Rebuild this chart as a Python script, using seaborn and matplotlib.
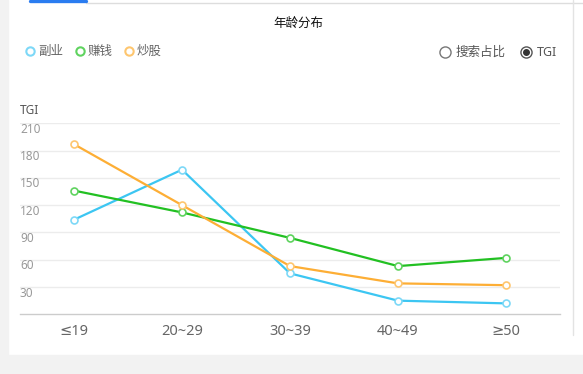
import matplotlib
matplotlib.use("Agg")
import matplotlib.pyplot as plt
import matplotlib.transforms as mtransforms
from matplotlib.lines import Line2D
from matplotlib.patches import Rectangle
import seaborn as sns
import pandas as pd

categories = ["≤19", "20~29", "30~39", "40~49", "≥50"]
series_names = ["副业", "赚钱", "炒股"]
fuye = [104, 159, 45, 15, 12]
zhuanqian = [136, 112, 84, 53, 62]
chaogu = [187, 120, 53, 34, 32]
yticks = [30, 60, 90, 120, 150, 180, 210]
colors = ["#3cc6f2", "#22c022", "#fdae35"]
marker_edges = ["#7dd8f7", "#5fd35f", "#fec66f"]

sns.set_theme(style="white")
plt.rcParams["font.family"] = ["Noto Sans CJK SC", "DejaVu Sans"]

rows = []
for name, vals in zip(series_names, [fuye, zhuanqian, chaogu]):
    for c, v in zip(categories, vals):
        rows.append({"age": c, "series": name, "TGI": v})
df = pd.DataFrame(rows)

W, H = 583, 374
fig = plt.figure(figsize=(W / 100, H / 100), dpi=100)
fig.patch.set_facecolor("white")

def fx(px):
    return px / W

def fy(py):
    return 1 - py / H

# page frame decorations
fig.add_artist(Rectangle((0, 0), fx(8), 1, transform=fig.transFigure, color="#f2f2f2", zorder=0))
fig.add_artist(Rectangle((0, 0), 1, fy(355), transform=fig.transFigure, color="#f2f2f2", zorder=0))
fig.add_artist(Line2D([fx(86), 1], [fy(2.5), fy(2.5)], transform=fig.transFigure, color="#dddddd", lw=1))
fig.add_artist(Line2D([fx(30), fx(86)], [fy(1.2), fy(1.2)], transform=fig.transFigure, color="#2a7cf0", lw=2.4))
fig.add_artist(Line2D([fx(572.5), fx(572.5)], [fy(0), fy(335)], transform=fig.transFigure, color="#e3e3e3", lw=1))

ax = fig.add_axes([fx(20), fy(314.3), fx(560) - fx(20), fy(123.3) - fy(314.3)])
ax.set_facecolor("none")

sns.lineplot(data=df, x="age", y="TGI", hue="series", palette=colors, sort=False,
             linewidth=1.6, legend=False, ax=ax)
for i, (name, vals) in enumerate(zip(series_names, [fuye, zhuanqian, chaogu])):
    ax.plot(categories, vals, linestyle="none", marker="o", markersize=5,
            markerfacecolor="white", markeredgecolor=marker_edges[i], markeredgewidth=1.2, zorder=5)

ax.set_xlim(-0.5, 4.5)
ax.set_ylim(0, 210)
ax.set_yticks(yticks)
ax.set_yticklabels([])
ax.tick_params(axis="y", length=0)
ax.yaxis.grid(True, color="#ececec", lw=1)
ax.set_axisbelow(True)
for s in ["top", "right", "left"]:
    ax.spines[s].set_visible(False)
ax.spines["bottom"].set_color("#cccccc")
ax.spines["bottom"].set_linewidth(1)
ax.tick_params(axis="x", length=0, pad=7, labelsize=10.5, labelcolor="#666666")
for lab in ax.get_xticklabels():
    lab.set_family(["Noto Sans", "DejaVu Sans"])
ax.set_xlabel("")
ax.set_ylabel("")

off = mtransforms.offset_copy(ax.get_yaxis_transform(), fig=fig, x=0, y=-6, units="dots")
for t in yticks:
    ax.text(0, t, str(t), transform=off, ha="left", va="center", fontsize=8.5, color="#999999",
            family=["Noto Sans", "DejaVu Sans"])

fig.text(fx(20), fy(110), "TGI", ha="left", va="center", fontsize=8.5, color="#555555",
         family=["Noto Sans", "DejaVu Sans"])

# title
fig.text(fx(298), fy(23), "年龄分布", ha="center", va="center", fontsize=9, color="#111111")

# legend
leg_x = [30, 80, 129]
for i, name in enumerate(series_names):
    fig.add_artist(Line2D([fx(leg_x[i])], [fy(51)], transform=fig.transFigure, marker="o",
                          markersize=6, markerfacecolor="white", markeredgecolor=marker_edges[i],
                          markeredgewidth=1.5, linestyle="none"))
    fig.text(fx(leg_x[i] + 8), fy(51), name, ha="left", va="center", fontsize=9, color="#666666")

# radio buttons
fig.add_artist(Line2D([fx(445)], [fy(52)], transform=fig.transFigure, marker="o", markersize=8,
                      markerfacecolor="white", markeredgecolor="#777777", markeredgewidth=1, linestyle="none"))
fig.text(fx(456), fy(52), "搜索占比", ha="left", va="center", fontsize=9, color="#555555")
fig.add_artist(Line2D([fx(525.5)], [fy(52)], transform=fig.transFigure, marker="o", markersize=8,
                      markerfacecolor="white", markeredgecolor="#555555", markeredgewidth=1, linestyle="none"))
fig.add_artist(Line2D([fx(525.5)], [fy(52)], transform=fig.transFigure, marker="o", markersize=4,
                      markerfacecolor="#333333", markeredgecolor="#333333", linestyle="none"))
fig.text(fx(537), fy(52), "TGI", ha="left", va="center", fontsize=9, color="#555555",
         family=["Noto Sans", "DejaVu Sans"])

fig.savefig("out.png", dpi=100)
